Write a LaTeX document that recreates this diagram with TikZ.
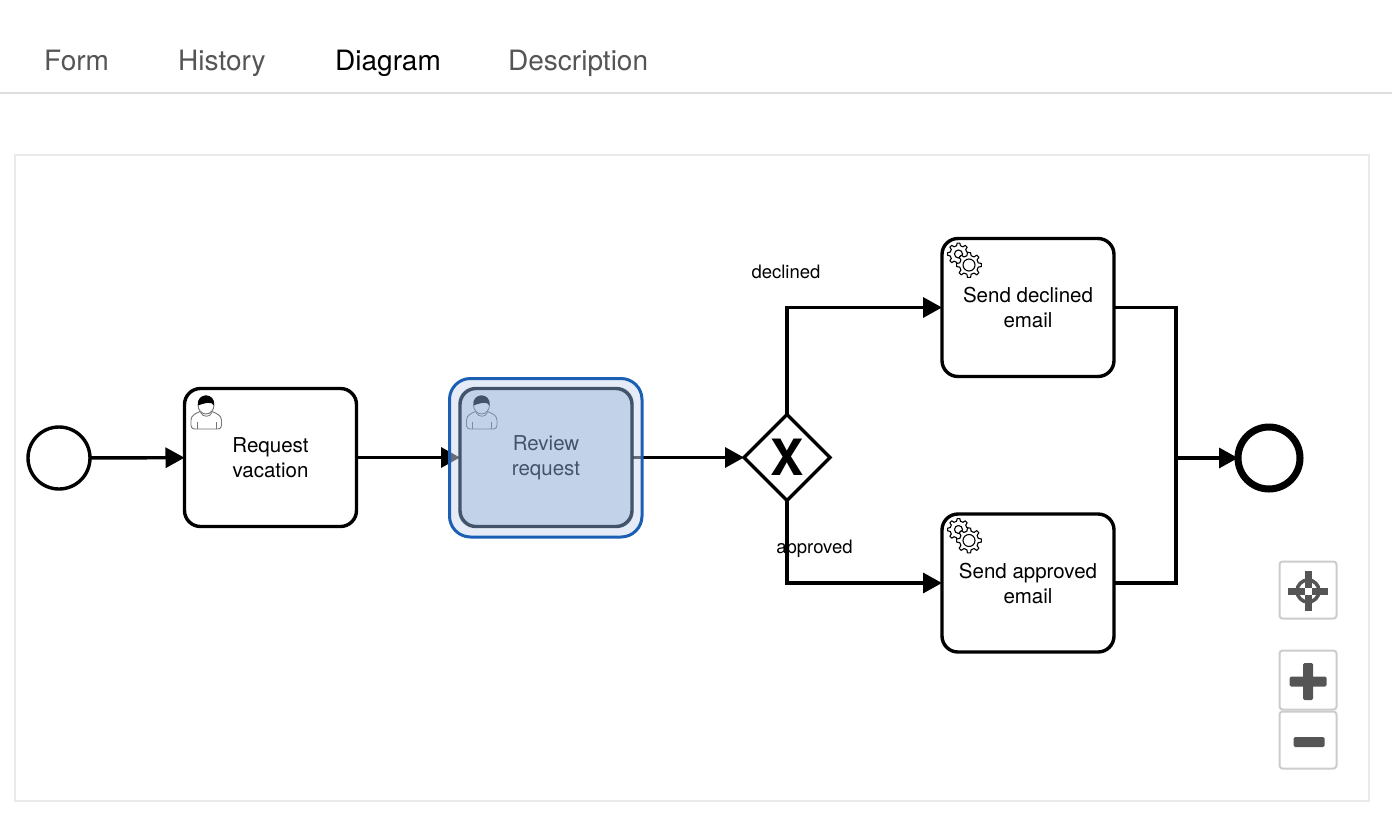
\documentclass[tikz,border=0pt]{standalone}
\usepackage{fontspec}
\setmainfont{TeX Gyre Heros}
\usetikzlibrary{arrows.meta,shapes.geometric,calc}
\definecolor{tabgray}{HTML}{555555}
\definecolor{linegray}{HTML}{DDDDDD}
\definecolor{panelgray}{HTML}{EAEAEA}
\definecolor{btngray}{HTML}{CCCCCC}
\definecolor{hiblue}{HTML}{1A5FB4}
\definecolor{halotint}{RGB}{204,218,240}
\definecolor{tint}{RGB}{135,169,213}
\tikzset{
  x=1pt,y=-1pt,
  tabtxt/.style={font=\fontsize{28}{30}\selectfont,text=tabgray,anchor=base west,inner sep=0pt},
  taskbox/.style={draw=black,line width=3.4pt,fill=white,rounded corners=16pt,minimum width=172pt,minimum height=138pt,inner sep=0pt,outer sep=0pt,align=center,font=\fontsize{20.5}{25}\selectfont},
  flow/.style={draw=black,line width=3.4pt,-{Triangle[length=19pt,width=20pt]}},
  plain/.style={draw=black,line width=3.4pt},
  edgelbl/.style={font=\fontsize{18.5}{20}\selectfont,inner sep=0pt,anchor=base},
  btn/.style={draw=btngray,line width=2pt,fill=white,rounded corners=3pt,minimum width=57pt,minimum height=57pt,inner sep=0pt},
  usericon/.pic={
    \draw[line width=.9pt,draw=black!55,fill=white,rounded corners=3.5pt]
      (0,33.5) -- (0,21) -- (9,15.5) -- (21,15.5) -- (30.5,21) -- (30.5,33.5) -- cycle;
    \draw[line width=.8pt,draw=black!55] (6,33.5) -- (6,26) (25,33.5) -- (25,26);
    \draw[line width=.8pt,draw=black!55] (9.5,17) .. controls (12,22) and (19,22) .. (21,17);
    \draw[line width=.9pt,draw=black!55,fill=white] (15,9.5) circle[x radius=8,y radius=9];
    \fill[black] (7,10) .. controls (5,-3.5) and (25,-3.5) .. (23,10) .. controls (21,5) and (12,8) .. (7,10) -- cycle;
  },
  gearshape/.pic={
    \draw[line width=1.1pt,draw=black,fill=white,line join=round]
      (-13:\gearR) \foreach \a in {0,45,...,315}{
        -- ($(\a-13:\gearR)$) -- ($(\a-7:\gearT)$) -- ($(\a+7:\gearT)$) -- ($(\a+13:\gearR)$)
      } -- cycle;
    \draw[line width=1.1pt,draw=black] (0,0) circle[radius=\gearH];
  },
  gearicon/.pic={
    \def\gearR{8.5}\def\gearT{11}\def\gearH{4}
    \pic at (10.5,9.5) {gearshape};
    \def\gearR{9.5}\def\gearT{12.5}\def\gearH{6}
    \pic at (21,20.5) {gearshape};
  }
}
\begin{document}
\begin{tikzpicture}
\useasboundingbox (0,0) rectangle (1392,828);
\fill[white] (0,0) rectangle (1392,828);
% tabs
\node[tabtxt] (tform) at (44,70) {Form};
\node[tabtxt] (thist) at (178,70) {History};
\node[tabtxt,text=black] (tdiag) at (335,70) {Diagram};
\node[tabtxt] (tdesc) at (508,70) {Description};
\draw[linegray,line width=1.5pt] (0,93) -- (1392,93);
% panel
\draw[panelgray,line width=1.3pt] (15,155) rectangle (1369,801);
% nodes
\node[circle,draw=black,line width=3.4pt,fill=white,minimum size=62pt,inner sep=0pt,outer sep=0pt] (start) at (59,458) {};
\node[taskbox] (req) at (270.5,457.5) {Request\\vacation};
\node[taskbox] (rev) at (546,457.5) {Review\\request};
\node[diamond,draw=black,line width=3.4pt,fill=white,minimum width=86pt,minimum height=86pt,inner sep=0pt,outer sep=0pt,font=\fontsize{50}{50}\selectfont\bfseries] (gw) at (787,457.5) {X};
\node[taskbox] (dec) at (1028,307.5) {Send declined\\email};
\node[taskbox] (app) at (1028,583) {Send approved\\email};
\node[circle,draw=black,line width=7pt,fill=white,minimum size=62pt,inner sep=0pt,outer sep=0pt] (end) at (1269,458) {};
\coordinate (join) at (1176,458);
% icons
\pic at ([shift={(6.5,7)}]req.north west) {usericon};
\pic at ([shift={(6.5,7)}]rev.north west) {usericon};
\pic at ([shift={(6,6)}]dec.north west) {gearicon};
\pic at ([shift={(6,6)}]app.north west) {gearicon};
% connectors
\draw[flow] (start) -- (req);
\draw[flow] (req) -- (rev);
\draw[flow] (rev) -- (gw);
\draw[flow] (gw.north) |- (dec.west);
\draw[flow] (gw.south) |- (app.west);
\draw[plain] (dec.east) -| (join);
\draw[plain] (app.east) -| (join);
\draw[flow] (join) -- (end.west);
% labels
\node[edgelbl] (ldec) at (786,278) {declined};
\node[edgelbl] (lapp) at (814.5,553) {approved};
% highlight
\fill[halotint,opacity=.5,even odd rule]
  [rounded corners=21pt] (449.5,378.5) rectangle (642,537)
  [rounded corners=16pt] (458.3,386.8) rectangle (633.7,528.2);
\fill[tint,opacity=.5,rounded corners=16pt] (458.3,386.8) rectangle (633.7,528.2);
\draw[hiblue,line width=3pt,rounded corners=21pt] (449.5,378.5) rectangle (642,537);
% buttons
\node[btn] (bc) at (1308,590) {};
\node[btn,minimum height=59pt] (bp) at (1308,680) {};
\node[btn] (bm) at (1308,740) {};
\coordinate (cc) at ($(bc.center)+(0,1)$);
\coordinate (cp) at ($(bp.center)+(0,1.5)$);
\coordinate (cm) at ($(bm.center)+(1,2)$);
\draw[tabgray,line width=3.5pt] (cc) circle[radius=11];
\fill[tabgray] ($(cc)+(-20,-3.5)$) rectangle ($(cc)+(20,3.5)$);
\fill[tabgray] ($(cc)+(-3.5,-20)$) rectangle ($(cc)+(3.5,20)$);
\fill[white] ($(cc)+(-3.5,-3.5)$) rectangle ($(cc)+(3.5,3.5)$);
\fill[tabgray,rounded corners=1.5pt] ($(cp)+(-18.5,-5)$) rectangle ($(cp)+(18.5,5)$);
\fill[tabgray,rounded corners=1.5pt] ($(cp)+(-5,-18.5)$) rectangle ($(cp)+(5,18.5)$);
\fill[tabgray,rounded corners=1.5pt] ($(cm)+(-15.5,-5)$) rectangle ($(cm)+(15.5,5)$);
\end{tikzpicture}
\end{document}
